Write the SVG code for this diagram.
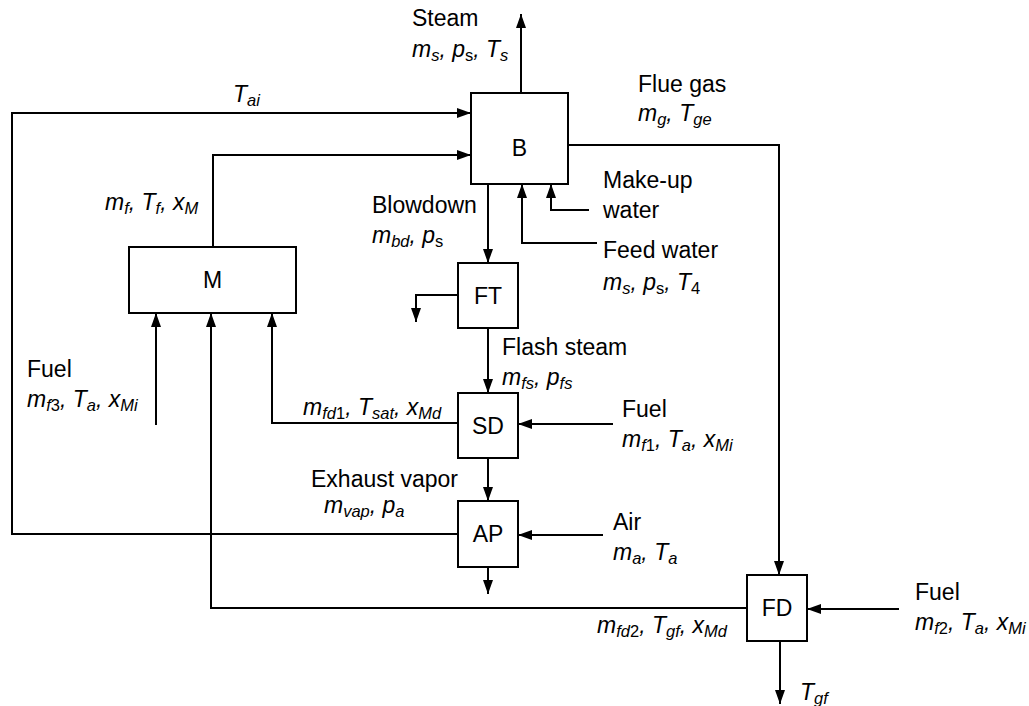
<svg xmlns="http://www.w3.org/2000/svg" width="1029" height="706" viewBox="0 0 1029 706">
<style>
.t{font-family:"Liberation Sans",Arial,sans-serif;font-size:23px;fill:#000}
.i{font-style:italic}
.u{font-style:normal}
.s{font-size:16.5px}
.c{text-anchor:middle}
.box{fill:#fff;stroke:#000;stroke-width:2}
.ln{fill:none;stroke:#000;stroke-width:2;marker-end:url(#ah)}
</style>
<defs>
<marker id="ah" markerUnits="userSpaceOnUse" markerWidth="14" markerHeight="10" refX="14" refY="5" orient="auto">
<path d="M0,0 L14,5 L0,10 z" fill="#000"/>
</marker>
</defs>
<rect width="1029" height="706" fill="#fff"/>
<g id="connectors">
<path class="ln" d="M521,93 V14"/>
<path class="ln" d="M458,534 H12 V113 H471"/>
<path class="ln" d="M213,247 V155 H471"/>
<path class="ln" d="M568,145 H779 V575"/>
<path class="ln" d="M488,184 V263"/>
<path class="ln" d="M597,243 H522 V184"/>
<path class="ln" d="M589,210 H551 V184"/>
<path class="ln" d="M458,295 H416 V322"/>
<path class="ln" d="M488,328 V393"/>
<path class="ln" d="M458,423 H272 V313"/>
<path class="ln" d="M156,425 V313"/>
<path class="ln" d="M747,608 H211 V313"/>
<path class="ln" d="M613,424 H518"/>
<path class="ln" d="M488,458 V501"/>
<path class="ln" d="M603,535 H518"/>
<path class="ln" d="M488,567 V594"/>
<path class="ln" d="M899,609 H807"/>
<path class="ln" d="M780,641 V704"/>
</g>
<g id="B"><rect class="box" x="471" y="93" width="97" height="91"/><text class="t c" x="519.5" y="156">B</text></g>
<g id="M"><rect class="box" x="129" y="247" width="167" height="66"/><text class="t c" x="212.5" y="288">M</text></g>
<g id="FT"><rect class="box" x="458" y="263" width="60" height="65"/><text class="t c" x="488" y="304">FT</text></g>
<g id="SD"><rect class="box" x="458" y="393" width="60" height="65"/><text class="t c" x="488" y="434">SD</text></g>
<g id="AP"><rect class="box" x="458" y="501" width="60" height="66"/><text class="t c" x="488" y="542">AP</text></g>
<g id="FD"><rect class="box" x="747" y="575" width="60" height="66"/><text class="t c" x="777" y="616">FD</text></g>
<g id="labels">
<text class="t" x="412" y="26">Steam</text>
<text class="t i" x="412" y="57">m<tspan class="s" dy="4">s</tspan><tspan dy="-4">, p</tspan><tspan class="s u" dy="4">s</tspan><tspan dy="-4">, T</tspan><tspan class="s" dy="4">s</tspan></text>
<text class="t" x="638" y="92">Flue gas</text>
<text class="t i" x="638" y="121">m<tspan class="s" dy="4">g</tspan><tspan dy="-4">, T</tspan><tspan class="s" dy="4">ge</tspan></text>
<text class="t i" x="233" y="102">T<tspan class="s" dy="4">ai</tspan></text>
<text class="t i" x="105" y="210">m<tspan class="s" dy="4">f</tspan><tspan dy="-4">, T</tspan><tspan class="s" dy="4">f</tspan><tspan dy="-4">, x</tspan><tspan class="s" dy="4">M</tspan></text>
<text class="t" x="372" y="213">Blowdown</text>
<text class="t i" x="372" y="243">m<tspan class="s" dy="4">bd</tspan><tspan dy="-4">, p</tspan><tspan class="s u" dy="4">s</tspan></text>
<text class="t" x="603" y="188">Make-up</text>
<text class="t" x="603" y="218">water</text>
<text class="t" x="603" y="258">Feed water</text>
<text class="t i" x="603" y="290">m<tspan class="s" dy="4">s</tspan><tspan dy="-4">, p</tspan><tspan class="s u" dy="4">s</tspan><tspan dy="-4">, T</tspan><tspan class="s u" dy="4">4</tspan></text>
<text class="t" x="502" y="355">Flash steam</text>
<text class="t i" x="502" y="385">m<tspan class="s" dy="4">fs</tspan><tspan dy="-4">, p</tspan><tspan class="s" dy="4">fs</tspan></text>
<text class="t" x="622" y="417">Fuel</text>
<text class="t i" x="622" y="447">m<tspan class="s" dy="4">f<tspan class="u">1</tspan></tspan><tspan dy="-4">, T</tspan><tspan class="s" dy="4">a</tspan><tspan dy="-4">, x</tspan><tspan class="s" dy="4">Mi</tspan></text>
<text class="t i" x="303" y="415">m<tspan class="s" dy="4">fd<tspan class="u">1</tspan></tspan><tspan dy="-4">, T</tspan><tspan class="s" dy="4">sat</tspan><tspan dy="-4">, x</tspan><tspan class="s" dy="4">Md</tspan></text>
<text class="t" x="27" y="377">Fuel</text>
<text class="t i" x="27" y="407">m<tspan class="s" dy="4">f<tspan class="u">3</tspan></tspan><tspan dy="-4">, T</tspan><tspan class="s" dy="4">a</tspan><tspan dy="-4">, x</tspan><tspan class="s" dy="4">Mi</tspan></text>
<text class="t" x="311" y="487">Exhaust vapor</text>
<text class="t i" x="324" y="513">m<tspan class="s" dy="4">vap</tspan><tspan dy="-4">, p</tspan><tspan class="s" dy="4">a</tspan></text>
<text class="t" x="613" y="530">Air</text>
<text class="t i" x="613" y="560">m<tspan class="s" dy="4">a</tspan><tspan dy="-4">, T</tspan><tspan class="s" dy="4">a</tspan></text>
<text class="t" x="915" y="600">Fuel</text>
<text class="t i" x="915" y="630">m<tspan class="s" dy="4">f<tspan class="u">2</tspan></tspan><tspan dy="-4">, T</tspan><tspan class="s" dy="4">a</tspan><tspan dy="-4">, x</tspan><tspan class="s" dy="4">Mi</tspan></text>
<text class="t i" x="597" y="633">m<tspan class="s" dy="4">fd<tspan class="u">2</tspan></tspan><tspan dy="-4">, T</tspan><tspan class="s" dy="4">gf</tspan><tspan dy="-4">, x</tspan><tspan class="s" dy="4">Md</tspan></text>
<text class="t i" x="800" y="700">T<tspan class="s" dy="4">gf</tspan></text>
</g>
</svg>
